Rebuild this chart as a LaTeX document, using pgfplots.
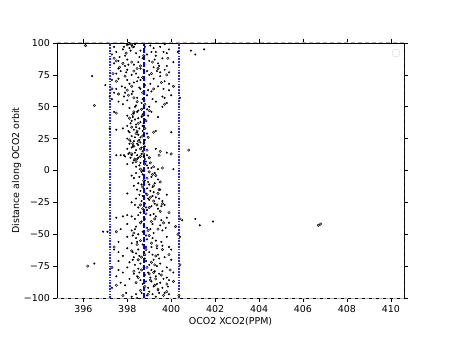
\documentclass[border=0pt]{standalone}
\usepackage{pgfplots}
\pgfplotsset{compat=1.18}
\usepackage{fontspec}
\setmainfont{DejaVu Sans}
\begin{document}
\begin{tikzpicture}
\begin{axis}[
  at={(0,0)}, anchor=south west,
  scale only axis, width=347bp, height=255bp,
  xmin=394.8, xmax=410.6, ymin=-100, ymax=100,
  xtick={396,398,...,410},
  ytick={-100,-75,-50,-25,0,25,50,75,100},
  yticklabels={−100,−75,−50,−25,0,25,50,75,100},
  tick align=outside, major tick length=3.5bp,
  tick style={black, line width=0.6bp},
  axis line style={line width=0.8bp},
  ticklabel style={font=\fontsize{9.5}{11}\selectfont},
  label style={font=\fontsize{9.5}{11}\selectfont},
  /pgf/number format/assume math mode=true,
  xlabel={OCO2 XCO2(PPM)},
  ylabel={Distance along OCO2 orbit},
  xlabel style={yshift=2bp},
  ylabel style={yshift=-4bp},
  clip=true,
]
% grey (lighter) points
\addplot[only marks, mark=*, mark size=1.25bp, draw=none, fill=gray!50] coordinates {
(398.1,99.5)(398.2,99)(398.0,98.5)(396.1,98)(397.5,86)(398.2,85)(397.8,84)(398.6,82)(399.4,80)(398.3,78)
(399.1,76)(397.9,74)(398.7,73)(397.5,70)(398.2,66)(399.2,64)(398.0,63)(398.7,61)(397.6,60)(396.5,51)
(398.3,57)(398.8,52)(399.0,47)(398.3,46)(398.7,43)(398.1,41)(398.5,37)(398.2,34)(398.8,33)(399.2,30)
(398.4,29)(398.7,27)(398.1,24)(398.5,23)(398.3,19)(398.6,17)(398.9,16)(399.5,15)(400.0,13)(400.8,16)
(398.2,13)(398.6,11)(399.0,10)(398.4,7)(398.8,5)(399.2,3)(399.6,2)(398.6,1)(399.0,-1)(399.3,-4)
(398.9,-6)(399.5,-9)(399.2,-12)(398.7,-13)(399.4,-18)(398.9,-19)(399.2,-24)(399.6,-26)(398.6,-27)(399.0,-29)
(399.5,-32)(398.7,-30)(399.9,-33)(400.4,-38)(399.1,-40)(398.6,-41)(399.4,-46)(400.2,-44)(397.5,-48)(398.3,-49)
(399.0,-51)(400.3,-50)(398.6,-55)(399.1,-57)(399.6,-62)(398.2,-63)(398.8,-66)(399.3,-67)(398.5,-70)(399.1,-72)
(396.2,-75)(397.3,-76)(398.9,-76)(398.3,-79)(399.2,-80)(398.5,-84)(399.3,-85)(399.8,-89)(398.8,-91)(399.4,-93)
(398.6,-94)(399.8,-95)(400.4,-74)(406.7,-43)(406.8,-42)(399.0,-81)(398.4,-88)
(398.05,99.5)(398.25,97)(397.95,92)(398.75,90)(399.85,88)(399.15,85)(398.45,80)(397.65,81)(399.55,69)(398.05,59)
(397.35,76)(398.45,54)(398.65,48)(398.25,44)(398.85,39)(398.45,31)(398.95,26)(398.25,21)(398.75,13)(398.35,9)
(399.45,12)(399.05,6)(399.15,-3)(398.75,-8)(399.45,-15)(399.05,-21)(399.35,-27)(398.85,-34)(399.25,-38)(399.65,-41)
(398.95,-47)(398.45,-58)(399.35,-59)(398.85,-62)(398.65,-68)(399.25,-74)(398.65,-78)(399.55,-82)(399.05,-86)(399.25,-90)
(398.95,-97)(399.65,-98)(400.35,-98)
(397.4,88)(399.8,75)(400.1,66)(397.3,64)(397.5,45)(399.7,52)(397.4,-60)(399.9,-66)(397.5,-90)(400.1,-87)(397.8,-98)(399.95,-78)
};
% black points
\addplot[only marks, mark=*, mark size=0.8bp, draw=none, fill=black] coordinates {
(398.0,99)(398.2,98)(398.3,97)(398.1,96)(397.8,95)(397.5,93)(398.6,94)(399.2,96)(399.5,97)(399.9,95)
(400.9,94)(401.5,95)(401.1,91)(397.3,91)(397.9,90)(398.4,92)(398.9,91)(399.3,90)(399.8,92)(400.3,93)
(398.7,88)(398.0,87)(397.6,86)(399.0,86)(399.6,88)(398.5,85)(397.4,84)(399.4,84)(398.8,97)(399.1,93)
(397.9,82)(398.3,83)(398.6,80)(399.2,81)(399.8,82)(398.0,79)(397.7,78)(398.9,78)(399.5,77)(398.4,76)
(397.5,76)(399.0,75)(396.4,74)(398.2,75)(399.7,79)
(397.0,67)(397.6,72)(398.0,71)(398.5,73)(399.2,72)(399.7,70)(398.3,69)(398.8,67)(399.4,66)(397.9,65)
(398.6,64)(399.1,62)(399.9,63)(397.4,61)(398.2,60)(398.9,59)(399.6,58)(400.4,57)(397.3,56)(398.0,55)
(398.7,56)(399.3,54)(397.8,52)(398.4,51)(399.0,50)(399.8,53)(398.6,71)(399.5,74)(397.2,58)(398.1,68)
(398.1,49)(398.5,47)(398.9,48)(398.3,45)(398.7,44)(398.0,43)(398.5,41)(398.8,40)(398.2,39)(398.6,38)
(398.4,36)(398.0,35)(397.8,33)(397.2,33)(397.5,32)(398.3,32)(398.7,31)(398.1,30)(398.5,28)(398.9,29)
(399.3,31)(400.0,30)(398.2,27)(398.6,26)(398.0,25)(398.8,24)(399.1,46)(399.4,42)(398.4,34)(398.7,35)
(398.3,23)(398.6,22)(398.1,21)(398.5,20)(398.8,19)(398.2,18)(398.0,17)(398.4,16)(398.7,15)(397.7,12)
(397.9,11)(398.2,12)(398.5,10)(398.8,9)(398.3,8)(398.6,6)(398.0,5)(398.9,4)(398.4,3)(399.1,2)
(399.4,1)(398.7,0)(400.1,1)(399.8,14)(399.3,17)(397.5,12)(398.9,12)(398.1,14)
(398.4,-2)(398.7,-3)(398.2,-4)(399.1,-5)(399.4,-7)(398.8,-8)(398.5,-10)(399.0,-11)(398.3,-12)(398.9,-14)
(399.5,-15)(398.6,-16)(399.2,-17)(398.0,-18)(398.7,-20)(399.3,-21)(398.4,-22)(399.0,-23)(399.6,-24)(398.2,-25)
(398.8,-26)(399.1,-28)(399.7,-27)(398.5,-29)(399.4,-30)(398.3,-6)(399.8,-19)
(398.9,-31)(398.6,-33)(399.2,-34)(398.0,-35)(397.5,-37)(397.8,-36)(398.2,-36)(398.5,-35)(398.8,-38)(399.3,-36)
(399.8,-37)(400.5,-39)(401.1,-38)(401.3,-43)(401.9,-40)(396.9,-48)(397.1,-48)(398.0,-42)(398.4,-44)(398.9,-45)
(399.5,-43)(399.9,-41)(398.2,-47)(398.7,-48)(399.2,-49)(399.6,-47)(398.5,-50)(397.7,-46)
(398.0,-52)(398.4,-53)(398.9,-54)(399.3,-55)(399.8,-52)(400.4,-52)(398.2,-57)(398.7,-58)(399.1,-60)(399.6,-59)
(398.0,-61)(398.5,-62)(399.0,-64)(399.4,-66)(397.8,-67)(398.3,-68)(398.8,-69)(399.2,-70)(399.7,-68)(398.1,-72)
(398.6,-73)(399.0,-74)(397.6,-71)(396.5,-73)(399.5,-73)(398.4,-65)
(398.0,-76)(398.5,-77)(399.1,-78)(399.6,-79)(397.8,-80)(398.3,-81)(398.8,-82)(399.3,-83)(399.8,-84)(398.1,-85)
(398.6,-86)(399.1,-87)(399.5,-88)(397.9,-90)(398.7,-89)(399.2,-91)(399.6,-92)(399.4,-94)(399.0,-95)(399.7,-96)
(398.4,-97)(398.9,-98)(399.3,-99)(398.2,-99)(397.6,-78)(399.9,-86)
(397.85,97)(398.35,99)(398.15,94)(399.05,98)(399.65,93)(397.65,89)(398.55,89)(399.25,87)(398.05,83)(399.45,82)
(398.75,79)(397.95,77)(399.35,78)(398.45,70)(399.05,68)(397.75,66)(398.55,65)(399.65,64)(398.25,62)(398.95,63)
(397.85,58)(398.45,57)(399.15,56)(398.65,53)(398.35,50)(398.75,49)(398.45,46)(398.95,43)(398.25,42)(398.65,42)
(398.35,40)(398.75,37)(398.15,37)(398.55,33)(398.05,31)(398.45,30)(398.75,28)(398.35,26)(398.15,23)(398.55,24)
(398.45,21)(398.75,21)(398.25,19)(398.65,18)(398.35,14)(398.05,13)(397.85,12)(398.45,12)(398.65,13)(398.15,10)
(398.75,11)(398.45,9)(398.85,7)(398.25,6)(398.55,4)(398.95,2)(398.65,-1)(399.25,-2)(398.55,-5)(398.95,-9)
(399.25,-10)(398.65,-11)(399.15,-13)(398.45,-15)(399.05,-16)(398.85,-18)(398.55,-19)(399.15,-20)(398.95,-22)(399.45,-22)
(398.65,-24)(398.35,-27)(399.25,-26)(398.85,-29)(399.55,-28)(398.75,-32)(399.05,-35)(398.35,-38)(399.55,-39)(398.65,-40)
(399.15,-42)(398.75,-43)(398.35,-46)(399.05,-46)(399.75,-45)(398.85,-51)(398.25,-51)(399.15,-53)(399.55,-56)(398.45,-56)
(398.85,-60)(399.35,-61)(398.25,-64)(398.75,-64)(399.15,-66)(398.55,-67)(399.45,-69)(398.85,-71)(398.25,-70)(399.35,-75)
(398.75,-76)(398.35,-74)(399.25,-79)(398.95,-80)(398.55,-80)(399.45,-81)(399.05,-84)(398.45,-83)(399.65,-85)(398.85,-87)
(399.35,-89)(399.85,-91)(398.95,-92)(399.45,-96)(399.15,-97)(398.65,-96)(397.95,-96)(398.45,-100)
(397.4,97)(397.6,80)(399.9,77)(400.1,85)(399.7,99)(397.3,71)(397.5,64)(399.9,68)(400.0,59)(397.6,54)
(399.6,50)(397.4,46)(399.7,57)(397.9,61)(399.3,93)
(397.6,-56)(397.4,-62)(399.9,-60)(400.0,-70)(397.5,-83)(397.3,-92)(400.1,-80)(399.9,-97)(397.7,-88)(400.0,-62)
(397.6,-64)(399.8,-76)
};
% mean and +/- lines
\addplot[color={rgb,1:red,0;green,0;blue,1}, line width=1.4bp, dash pattern=on 5bp off 2bp] coordinates {(398.77,-100)(398.77,100)};
\addplot[color={rgb,1:red,0.15;green,0.15;blue,1}, line width=1.6bp, dash pattern=on 1.6bp off 1.2bp] coordinates {(397.2,-100)(397.2,100)};
\addplot[color={rgb,1:red,0.15;green,0.15;blue,1}, line width=1.6bp, dash pattern=on 1.6bp off 1.2bp] coordinates {(400.36,-100)(400.36,100)};
% edge overlay (clipped points along frame)
\draw[gray!60, line width=1bp, dash pattern=on 4bp off 3bp] (rel axis cs:0,1) -- (rel axis cs:1,1) -- (rel axis cs:1,0) -- (rel axis cs:0,0);
% empty legend box
\node[draw=gray!30, rounded corners=1.5bp, minimum size=7bp, inner sep=0pt, anchor=north east] at (rel axis cs:0.988,0.975) {};
\end{axis}
\path[use as bounding box] (-57bp,-39bp) rectangle (392bp,298bp);
\end{tikzpicture}
\end{document}
